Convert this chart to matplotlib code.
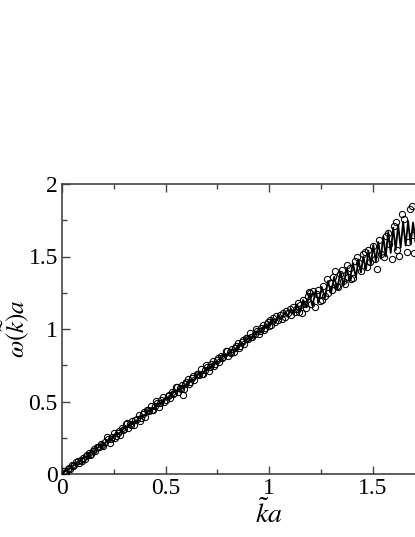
import matplotlib
matplotlib.use("Agg")
import matplotlib.pyplot as plt
from matplotlib.ticker import MultipleLocator

plt.rcParams['font.family'] = ['Liberation Serif', 'DejaVu Serif']
plt.rcParams['mathtext.fontset'] = 'stix'

# scattered data (open circles)
x_pts = [0.01, 0.02, 0.03, 0.04, 0.05, 0.06, 0.07, 0.08, 0.09, 0.10,
         0.11, 0.12, 0.13, 0.14, 0.15, 0.16, 0.17, 0.18, 0.19, 0.20,
         0.21, 0.22, 0.23, 0.24, 0.25, 0.26, 0.27, 0.28, 0.29, 0.30,
         0.31, 0.32, 0.33, 0.34, 0.35, 0.36, 0.37, 0.38, 0.39, 0.40,
         0.41, 0.42, 0.43, 0.44, 0.45, 0.46, 0.47, 0.48, 0.49, 0.50,
         0.51, 0.52, 0.53, 0.54, 0.55, 0.56, 0.57, 0.58, 0.59, 0.60,
         0.61, 0.62, 0.63, 0.64, 0.65, 0.66, 0.67, 0.68, 0.69, 0.70,
         0.71, 0.72, 0.73, 0.74, 0.75, 0.76, 0.77, 0.78, 0.79, 0.80,
         0.81, 0.82, 0.83, 0.84, 0.85, 0.86, 0.87, 0.88, 0.89, 0.90,
         0.91, 0.92, 0.93, 0.94, 0.95, 0.96, 0.97, 0.98, 0.99, 1.00,
         0.015, 0.035, 0.055, 0.075, 0.095, 0.115, 0.135, 0.155, 0.175, 0.195,
         0.215, 0.235, 0.255, 0.275, 0.295, 0.315, 0.335, 0.355, 0.375, 0.395,
         0.415, 0.435, 0.455, 0.475, 0.495, 0.515, 0.535, 0.555, 0.575, 0.595,
         0.615, 0.635, 0.655, 0.675, 0.695, 0.715, 0.735, 0.755, 0.775, 0.795,
         0.815, 0.835, 0.855, 0.875, 0.895, 0.915, 0.935, 0.955, 0.975, 0.995,
         0.586,
         1.005, 1.012, 1.020, 1.029, 1.036, 1.044, 1.052, 1.061, 1.068, 1.076,
         1.084, 1.093, 1.100, 1.108, 1.116, 1.124, 1.130, 1.138, 1.145, 1.150,
         1.158, 1.165, 1.174, 1.180, 1.188, 1.195, 1.198, 1.205, 1.212, 1.222,
         1.230, 1.238, 1.245, 1.255, 1.262, 1.270, 1.279, 1.286, 1.295, 1.303,
         1.311, 1.319, 1.327, 1.335, 1.342, 1.351, 1.358, 1.367, 1.375, 1.383,
         1.390, 1.398, 1.407, 1.415, 1.427, 1.437, 1.445, 1.455, 1.464, 1.472,
         1.480, 1.490, 1.501, 1.510, 1.520, 1.533, 1.540, 1.556, 1.565, 1.573,
         1.581, 1.592, 1.605, 1.613, 1.620, 1.630, 1.644, 1.652, 1.665, 1.670,
         1.681, 1.689, 1.700, 1.697]
y_pts = [0.020, 0.016, 0.034, 0.032, 0.060, 0.060, 0.085, 0.076, 0.094, 0.109,
         0.102, 0.129, 0.145, 0.141, 0.159, 0.156, 0.184, 0.185, 0.210, 0.193,
         0.218, 0.239, 0.214, 0.258, 0.280, 0.260, 0.286, 0.271, 0.317, 0.307,
         0.347, 0.318, 0.343, 0.364, 0.339, 0.382, 0.405, 0.385, 0.411, 0.396,
         0.441, 0.432, 0.472, 0.443, 0.468, 0.488, 0.464, 0.507, 0.530, 0.510,
         0.535, 0.521, 0.566, 0.557, 0.597, 0.567, 0.593, 0.613, 0.589, 0.632,
         0.654, 0.635, 0.660, 0.646, 0.691, 0.681, 0.722, 0.692, 0.718, 0.738,
         0.713, 0.757, 0.779, 0.760, 0.785, 0.770, 0.816, 0.806, 0.847, 0.817,
         0.842, 0.863, 0.838, 0.882, 0.904, 0.884, 0.910, 0.895, 0.941, 0.931,
         0.971, 0.942, 0.967, 0.988, 0.963, 1.006, 1.029, 1.009, 1.035, 1.020,
         0.007, 0.042, 0.055, 0.089, 0.093, 0.121, 0.129, 0.170, 0.185, 0.198,
         0.252, 0.238, 0.247, 0.298, 0.303, 0.350, 0.336, 0.372, 0.368, 0.428,
         0.438, 0.443, 0.501, 0.488, 0.497, 0.548, 0.552, 0.599, 0.586, 0.622,
         0.618, 0.677, 0.687, 0.693, 0.751, 0.738, 0.746, 0.797, 0.802, 0.849,
         0.836, 0.871, 0.867, 0.927, 0.937, 0.943, 1.000, 0.987, 0.996, 1.047,
         0.545,
         1.062, 1.030, 1.075, 1.050, 1.088, 1.060, 1.098, 1.067, 1.110, 1.080,
         1.125, 1.108, 1.140, 1.095, 1.150, 1.118, 1.136, 1.180, 1.120, 1.166,
         1.113, 1.200, 1.172, 1.145, 1.230, 1.253, 1.246, 1.175, 1.262, 1.154,
         1.240, 1.269, 1.190, 1.200, 1.300, 1.230, 1.343, 1.250, 1.320, 1.270,
         1.357, 1.400, 1.300, 1.288, 1.380, 1.407, 1.330, 1.310, 1.440, 1.360,
         1.420, 1.345, 1.350, 1.470, 1.499, 1.457, 1.400, 1.520, 1.533, 1.430,
         1.545, 1.460, 1.572, 1.480, 1.412, 1.614, 1.520, 1.499, 1.640, 1.660,
         1.586, 1.483, 1.710, 1.740, 1.545, 1.506, 1.793, 1.756, 1.533, 1.600,
         1.825, 1.848, 1.526, 1.650]

# jagged solid line
x_line = [0.00, 0.02, 0.04, 0.06, 0.08, 0.10, 0.12, 0.14, 0.16, 0.18,
          0.20, 0.22, 0.24, 0.26, 0.28, 0.30, 0.32, 0.34, 0.36, 0.38,
          0.40, 0.42, 0.44, 0.46, 0.48, 0.50, 0.52, 0.54, 0.56, 0.58,
          0.60, 0.62, 0.64, 0.66, 0.68, 0.70, 0.72, 0.74, 0.76, 0.78,
          0.80, 0.82, 0.84, 0.86, 0.88, 0.90, 0.92, 0.94, 0.96, 0.98,
          1.000, 1.015, 1.030, 1.045, 1.060, 1.075, 1.090, 1.105, 1.120, 1.135,
          1.150, 1.165, 1.180, 1.195, 1.210, 1.225, 1.240, 1.255, 1.270, 1.285,
          1.300, 1.315, 1.330, 1.345, 1.360, 1.375, 1.390, 1.405, 1.420, 1.432,
          1.444, 1.456, 1.468, 1.480, 1.492, 1.504, 1.516, 1.528, 1.540, 1.552,
          1.564, 1.576, 1.588, 1.600, 1.612, 1.624, 1.636, 1.648, 1.660, 1.672,
          1.684, 1.696, 1.708, 1.720]
y_line = [0.000, 0.025, 0.038, 0.066, 0.078, 0.108, 0.120, 0.150, 0.160, 0.191,
          0.201, 0.232, 0.242, 0.274, 0.284, 0.316, 0.325, 0.357, 0.366, 0.398,
          0.406, 0.440, 0.447, 0.482, 0.488, 0.523, 0.529, 0.565, 0.570, 0.606,
          0.610, 0.648, 0.651, 0.690, 0.692, 0.731, 0.733, 0.773, 0.774, 0.815,
          0.815, 0.857, 0.855, 0.899, 0.896, 0.941, 0.937, 0.983, 0.978, 1.025,
          1.020, 1.070, 1.040, 1.090, 1.065, 1.115, 1.085, 1.140, 1.105, 1.170,
          1.120, 1.200, 1.150, 1.240, 1.160, 1.260, 1.185, 1.290, 1.215, 1.330,
          1.250, 1.360, 1.275, 1.395, 1.300, 1.420, 1.330, 1.455, 1.355, 1.480,
          1.390, 1.500, 1.410, 1.540, 1.445, 1.580, 1.465, 1.600, 1.485, 1.640,
          1.500, 1.670, 1.525, 1.700, 1.545, 1.720, 1.560, 1.740, 1.575, 1.745,
          1.585, 1.735, 1.600, 1.750]

fig = plt.figure(figsize=(4.15, 5.37), dpi=100)
# the frame runs past the right edge of the picture, as in the original
ax = fig.add_axes([62 / 415, 63 / 537, 414 / 415, 290 / 537])

ax.plot(x_line, y_line, color='black', lw=1.3, zorder=2)
ax.plot(x_pts, y_pts, 'o', mfc='none', mec='black', ms=4.5, mew=0.75, zorder=3)

ax.set_xlim(0, 2)
ax.set_ylim(0, 2)
ax.xaxis.set_minor_locator(MultipleLocator(0.25))
ax.yaxis.set_minor_locator(MultipleLocator(0.25))
# the label at 2 on the x axis lies outside the picture
ax.set_xticks([0, 0.5, 1, 1.5, 2], ['0', '0.5', '1', '1.5', ''])
ax.set_yticks([0, 0.5, 1, 1.5, 2], ['0', '0.5', '1', '1.5', '2'])

ax.tick_params(which='both', direction='in', top=True, right=True,
               color='#444444', width=1.0, labelsize=17)
ax.tick_params(which='major', length=6, pad=3)
ax.tick_params(which='minor', length=3.5)
for s in ax.spines.values():
    s.set_color('#444444')
    s.set_linewidth(1.2)

ax.set_xlabel(r'$\tilde{k}a$', fontsize=20, labelpad=0)
ax.set_ylabel(r'$\omega(\widetilde{k})a$', fontsize=18)
ax.yaxis.set_label_coords(-0.074, 0.5)

fig.savefig('out.png', dpi=100)
